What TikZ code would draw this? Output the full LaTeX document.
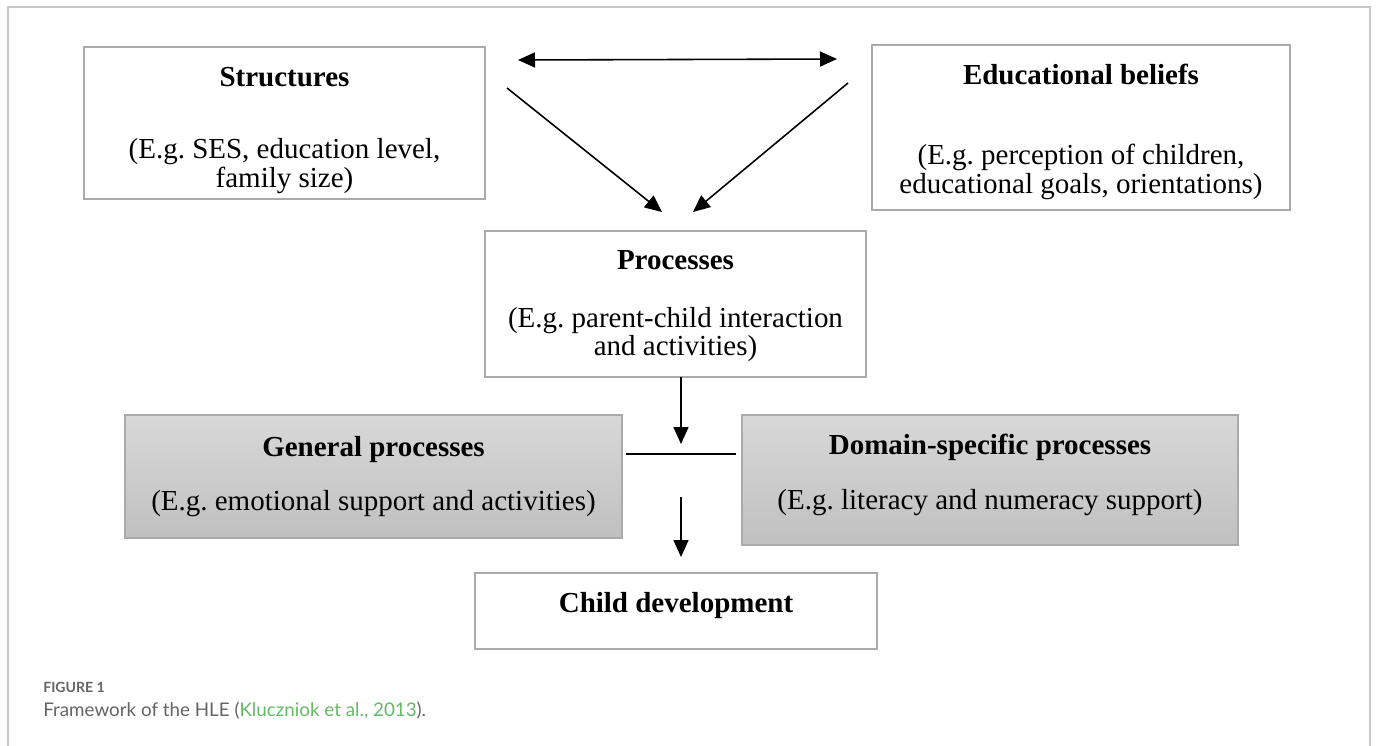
\documentclass[tikz,border=0pt]{standalone}
\usepackage{fontspec}
\setmainfont{Liberation Serif}
\newfontfamily\capfont{Lato}
\usetikzlibrary{arrows.meta, calc, positioning}
\definecolor{framegray}{RGB}{200,200,200}
\definecolor{boxgray}{RGB}{170,170,170}
\definecolor{shadetop}{RGB}{216,216,216}
\definecolor{shadebot}{RGB}{192,192,192}
\definecolor{capgray}{RGB}{100,100,100}
\definecolor{citegreen}{RGB}{100,185,100}
\frenchspacing

\begin{document}
\begin{tikzpicture}[x=0.02cm, y=-0.02cm,
  box/.style={draw=boxgray, line width=0.85pt, inner sep=0pt},
  shadebox/.style={box, top color=shadetop, bottom color=shadebot},
  boxtext/.style={align=center, inner sep=0pt, font=\fontsize{16.5}{16}\selectfont},
  tip/.style={-{Triangle[length=0.34cm, width=0.3cm]}, line width=0.9pt}]
\useasboundingbox (0,0) rectangle (1377,745);
\draw[framegray, line width=1.1pt] (8,760) -- (8,7) -- (1370,7) -- (1370,760);

% boxes
\node[box, minimum width=8.02cm, minimum height=3.04cm] (struct) at (284.5,123) {};
\node[box, minimum width=8.36cm, minimum height=3.3cm] (belief) at (1081,127.5) {};
\node[box, minimum width=7.62cm, minimum height=2.92cm] (proc) at (675.5,304) {};
\node[shadebox, minimum width=9.94cm, minimum height=2.46cm] (general) at (373.5,476.5) {};
\node[shadebox, minimum width=9.92cm, minimum height=2.6cm] (domain) at (990,480) {};
\node[box, minimum width=8.04cm, minimum height=1.52cm] (child) at (676,611) {};

% texts
\node[boxtext] (struct-text) at ($(struct)+(0,7.5)$)
  {\textbf{Structures}\\[25pt](E.g. SES, education level,\\family size)};
\node[boxtext] (belief-text) at ($(belief)+(0,4)$)
  {\textbf{Educational beliefs}\\[30pt](E.g. perception of children,\\educational goals, orientations)};
\node[boxtext] (proc-text) at ($(proc)+(0,2)$)
  {\textbf{Processes}\\[17pt](E.g. parent-child interaction\\and activities)};
\node[boxtext] (general-text) at (general)
  {\textbf{General processes}\\[15pt](E.g. emotional support and activities)};
\node[boxtext] (domain-text) at ($(domain)+(0,-5)$)
  {\textbf{Domain-specific processes}\\[15pt](E.g. literacy and numeracy support)};
\node[boxtext] (child-text) at ($(child)+(0,-5)$) {\textbf{Child development}};

% connectors
\coordinate (link-l) at (518,60);
\coordinate (link-r) at (837,59);
\coordinate (struct-out) at (507,88);
\coordinate (belief-out) at (848,83);
\coordinate (proc-in-l) at (662,212);
\coordinate (proc-in-r) at (693,212);
\coordinate (proc-out) at (681,377);
\coordinate (bar-tip) at (681,444);
\coordinate (bar-l) at (626,454);
\coordinate (bar-r) at (736,454);
\coordinate (bar-out) at (681,497);
\coordinate (child-in) at (681,557);
\draw[tip, {Triangle[length=0.34cm, width=0.3cm]}-{Triangle[length=0.34cm, width=0.3cm]}] (link-l) -- (link-r);
\draw[tip] (struct-out) -- (proc-in-l);
\draw[tip] (belief-out) -- (proc-in-r);
\draw[tip] (proc-out) -- (bar-tip);
\draw[line width=0.9pt] (bar-l) -- (bar-r);
\draw[tip] (bar-out) -- (child-in);

% caption
\node[anchor=base west, inner sep=0pt, text=capgray,
  font=\capfont\bfseries\fontsize{8}{10}\selectfont] (fignum) at (43,692) {FIGURE 1};
\node[anchor=base west, inner sep=0pt, text=capgray,
  font=\capfont\fontsize{10.7}{13}\selectfont] (figcap) at (43,716)
  {Framework of the HLE (\textcolor{citegreen}{Kluczniok et al., 2013}).};
\end{tikzpicture}
\end{document}
